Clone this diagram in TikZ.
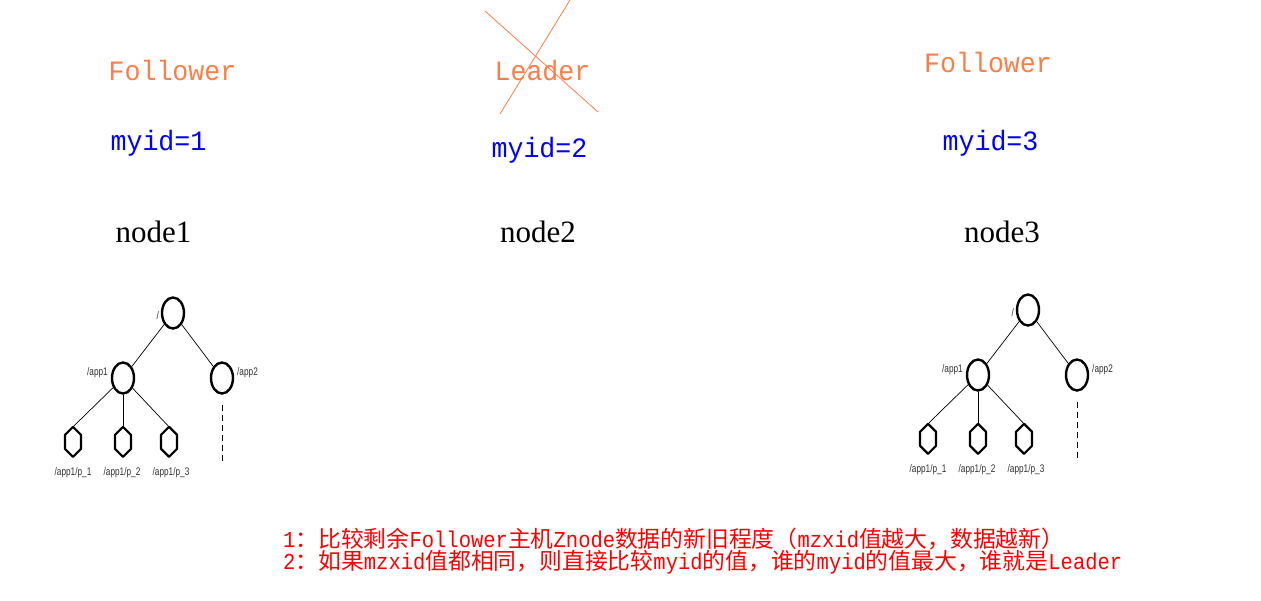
\documentclass[tikz,border=0pt]{standalone}
\usepackage{fontspec}
\setmainfont{Liberation Serif}
\newfontfamily\monoA[FakeStretch=0.95]{Liberation Mono}
\newfontfamily\monoB[FakeStretch=0.9]{Liberation Mono}
\newfontfamily\cjk{Noto Sans CJK SC}
\newfontfamily\narrow[FakeStretch=0.75]{Liberation Sans}
\usetikzlibrary{shapes.geometric}
\definecolor{rolecol}{RGB}{255,125,70}
\definecolor{idcol}{RGB}{0,0,255}
\definecolor{notecol}{RGB}{255,0,0}
\begin{document}
\begin{tikzpicture}[x=1pt,y=-1pt,
  role/.style={font=\monoA\fontsize{28}{28}\selectfont, text=rolecol, anchor=base, inner sep=0},
  idlbl/.style={font=\monoA\fontsize{28}{28}\selectfont, text=idcol, anchor=base, inner sep=0},
  nodelbl/.style={font=\fontsize{31}{31}\selectfont, text=black, anchor=base, inner sep=0},
  zell/.style={ellipse, draw=black, line width=2.4pt, minimum width=22, minimum height=31, inner sep=0},
  hexbox/.style={minimum width=18, minimum height=30, inner sep=0},
  hexline/.style={draw=black, line width=2.2pt, line join=round},
  tlbl/.style={font=\narrow\fontsize{11}{11}\selectfont, text=black!80, inner sep=0},
  edge/.style={draw=black, line width=0.7pt},
  dashedge/.style={draw=black, line width=1pt, dash pattern=on 6pt off 4pt},
  cross/.style={draw=rolecol, line width=0.8pt},
  note/.style={font=\monoB\fontsize{22.8}{22.8}\selectfont, text=notecol, anchor=base west, inner sep=0}
]
\useasboundingbox[fill=white] (0,0) rectangle (1261,600);

% role / id / name labels
\node[role]    (f1) at (172.5,80) {Follower};
\node[idlbl]   (i1) at (158.5,150) {myid=1};
\node[nodelbl] (n1) at (153.5,242) {node1};

\node[role]    (ld) at (542.5,80) {Leader};
\node[idlbl]   (i2) at (539.5,157) {myid=2};
\node[nodelbl] (n2) at (538,242) {node2};

\node[role]    (f3) at (988,72) {Follower};
\node[idlbl]   (i3) at (990.5,150) {myid=3};
\node[nodelbl] (n3) at (1002,242) {node3};

% cross over Leader
\coordinate (xa1) at (485,11);
\coordinate (xb1) at (598,112);
\coordinate (xa2) at (570,0);
\coordinate (xb2) at (500,114);
\draw[cross] (xa1) -- (xb1);
\draw[cross] (xa2) -- (xb2);

% znode trees
\foreach \s/\dx/\dy in {L/0/0, R/855/-3} {
\begin{scope}[shift={(\dx,\dy)}]
  \node[zell] (\s root) at (173,313) {};
  \node[zell] (\s app1) at (123,378) {};
  \node[zell] (\s app2) at (222,378) {};
  \node[hexbox] (\s h1) at (73,442) {};
  \node[hexbox] (\s h2) at (123,442) {};
  \node[hexbox] (\s h3) at (169,442) {};
  \foreach \h in {h1,h2,h3} {
    \draw[hexline] (\s\h.north) -- ++(8,8) -- ++(0,14) -- ++(-8,8) -- ++(-8,-8) -- ++(0,-14) -- cycle;
  }
  \node[tlbl, anchor=east] (\s lroot) at (159,316) {/};
  \node[tlbl, anchor=east] (\s lapp1) at (108,373) {/app1};
  \node[tlbl, anchor=west] (\s lapp2) at (237,373) {/app2};
  \node[tlbl] (\s l1) at (73,473) {/app1/p\_1};
  \node[tlbl] (\s l2) at (122,473) {/app1/p\_2};
  \node[tlbl] (\s l3) at (171,473) {/app1/p\_3};
  \draw[edge] (\s root) -- (\s app1);
  \draw[edge] (\s root) -- (\s app2);
  \draw[edge] (\s app1) -- (\s h1.north);
  \draw[edge] (\s app1) -- (\s h2.north);
  \draw[edge] (\s app1) -- (\s h3.north);
  \coordinate (\s dtop) at (222,405);
  \coordinate (\s dbot) at (222,462);
  \draw[dashedge] (\s dtop) -- (\s dbot);
\end{scope}
}

% notes
\node[note] (t1) at (283,547) {1{\cjk ：比较剩余}Follower{\cjk 主机}Znode{\cjk 数据的新旧程度（}mzxid{\cjk 值越大，数据越新）}};
\node[note] (t2) at (283,569) {2{\cjk ：如果}mzxid{\cjk 值都相同，则直接比较}myid{\cjk 的值，谁的}myid{\cjk 的值最大，谁就是}Leader};
\end{tikzpicture}
\end{document}
